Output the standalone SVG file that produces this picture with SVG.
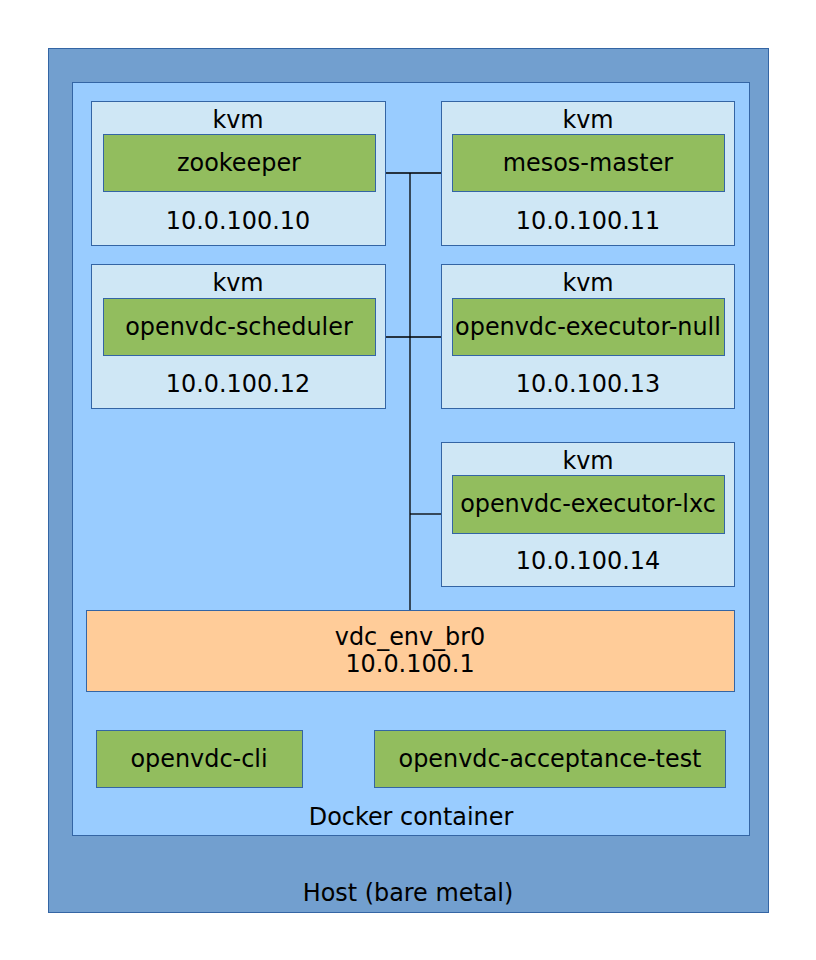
<svg xmlns="http://www.w3.org/2000/svg" width="816" height="960" viewBox="0 0 816 960">
<style>
text{font-family:"DejaVu Sans","Liberation Sans",sans-serif;font-size:23.9px;fill:#000;text-anchor:middle}
.host{fill:#729fcf;stroke:#3465a4;stroke-width:1}
.docker{fill:#99ccff;stroke:#3465a4;stroke-width:1}
.kvm{fill:#cfe7f5;stroke:#3465a4;stroke-width:1}
.app{fill:#92bd5e;stroke:#3465a4;stroke-width:1}
.br{fill:#ffcc99;stroke:#3465a4;stroke-width:1}
.wire{stroke:#000;stroke-width:1.3;fill:none}
</style>
<rect width="816" height="960" fill="#fff"/>
<g id="host">
<rect class="host" x="48.5" y="48.5" width="720" height="864"/>
<text x="408" y="901">Host (bare metal)</text>
</g>
<g id="docker">
<rect class="docker" x="72.5" y="82.5" width="677" height="753"/>
<text x="411" y="825">Docker container</text>
</g>
<g id="connectors">
<line class="wire" x1="410" y1="173" x2="410" y2="610"/>
<line class="wire" x1="385" y1="173" x2="441" y2="173"/>
<line class="wire" x1="385" y1="337" x2="441" y2="337"/>
<line class="wire" x1="410" y1="514" x2="441" y2="514"/>
</g>
<g id="kvm-zookeeper">
<rect class="kvm" x="91.5" y="101.5" width="294" height="144"/>
<text x="238" y="128">kvm</text>
<rect class="app" x="103.5" y="134.5" width="272" height="57"/>
<text x="239" y="171">zookeeper</text>
<text x="238" y="229">10.0.100.10</text>
</g>
<g id="kvm-mesos-master">
<rect class="kvm" x="441.5" y="101.5" width="293" height="144"/>
<text x="588" y="128">kvm</text>
<rect class="app" x="452.5" y="134.5" width="272" height="57"/>
<text x="588" y="171">mesos-master</text>
<text x="588" y="229">10.0.100.11</text>
</g>
<g id="kvm-openvdc-scheduler">
<rect class="kvm" x="91.5" y="264.5" width="294" height="144"/>
<text x="238" y="291">kvm</text>
<rect class="app" x="103.5" y="298.5" width="272" height="57"/>
<text x="239" y="335">openvdc-scheduler</text>
<text x="238" y="392">10.0.100.12</text>
</g>
<g id="kvm-openvdc-executor-null">
<rect class="kvm" x="441.5" y="264.5" width="293" height="144"/>
<text x="588" y="291">kvm</text>
<rect class="app" x="452.5" y="298.5" width="272" height="57"/>
<text x="588" y="335">openvdc-executor-null</text>
<text x="588" y="392">10.0.100.13</text>
</g>
<g id="kvm-openvdc-executor-lxc">
<rect class="kvm" x="441.5" y="442.5" width="293" height="144"/>
<text x="588" y="469">kvm</text>
<rect class="app" x="452.5" y="475.5" width="272" height="58"/>
<text x="588" y="512">openvdc-executor-lxc</text>
<text x="588" y="569">10.0.100.14</text>
</g>
<g id="vdc_env_br0">
<rect class="br" x="86.5" y="610.5" width="648" height="81"/>
<text x="410" y="645">vdc_env_br0</text>
<text x="410" y="672">10.0.100.1</text>
</g>
<g id="openvdc-cli">
<rect class="app" x="96.5" y="730.5" width="206" height="57"/>
<text x="199" y="767">openvdc-cli</text>
</g>
<g id="openvdc-acceptance-test">
<rect class="app" x="374.5" y="730.5" width="351" height="57"/>
<text x="550" y="767">openvdc-acceptance-test</text>
</g>
</svg>
